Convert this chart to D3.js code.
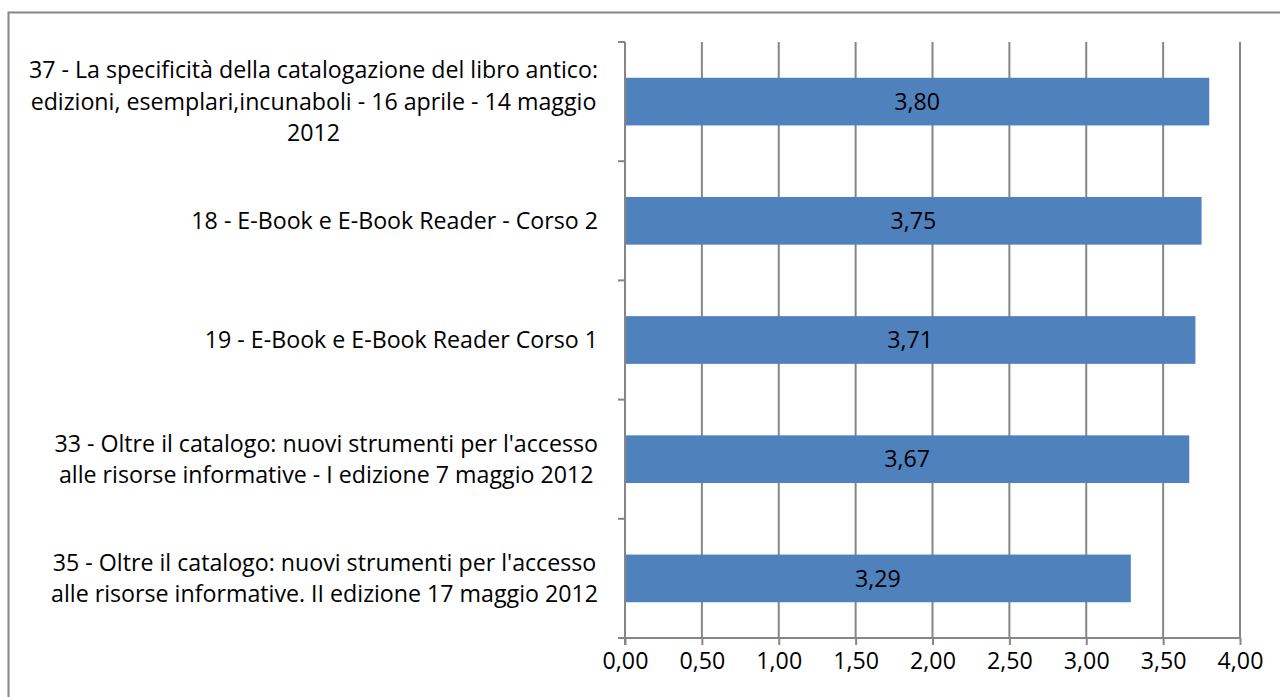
<!DOCTYPE html>
<html>
<head>
<meta charset="utf-8">
<script src="https://cdn.jsdelivr.net/npm/d3@7"></script>
<style>
  body { margin: 0; background: #fff; }
  text { font-family: "Open Sans", sans-serif; fill: #000; }
</style>
</head>
<body>
<div id="chart"></div>
<script>
const categories = [
  "37 - La specificità della catalogazione del libro antico:\nedizioni, esemplari,incunaboli - 16 aprile - 14 maggio\n2012",
  "18 - E-Book e E-Book Reader - Corso 2",
  "19 - E-Book e E-Book Reader Corso 1",
  "33 - Oltre il catalogo: nuovi strumenti per l'accesso\nalle risorse informative - I edizione 7 maggio 2012",
  "35 - Oltre il catalogo: nuovi strumenti per l'accesso\nalle risorse informative. II edizione 17 maggio 2012"
];
const values = [3.80, 3.75, 3.71, 3.67, 3.29];
const xTicks = [0, 0.5, 1, 1.5, 2, 2.5, 3, 3.5, 4];

const W = 1280, H = 697;
const grey = "#868686";
const fontSize = 23.2;

const it = d3.formatLocale({decimal: ",", thousands: ".", grouping: [3], currency: ["€", ""]});
const fmt = it.format(".2f");

const svg = d3.select("#chart")
  .append("svg")
  .attr("width", W)
  .attr("height", H);

// outer frame (right/bottom edges fall off the picture)
svg.append("rect")
  .attr("x", 8.5).attr("y", 12.5)
  .attr("width", W + 20).attr("height", H + 20)
  .attr("fill", "none")
  .attr("stroke", grey)
  .attr("stroke-width", 2);

const x = d3.scaleLinear().domain([0, 4]).range([625, 1240]);
const y = d3.scaleBand().domain(categories).range([42, 638])
  .paddingInner(0.6).paddingOuter(0.3);

// vertical gridlines
svg.append("g")
  .selectAll("line")
  .data(xTicks.filter(d => d > 0))
  .enter()
  .append("line")
  .attr("x1", d => x(d)).attr("x2", d => x(d))
  .attr("y1", 42).attr("y2", 638)
  .attr("stroke", grey)
  .attr("stroke-width", 2);

// bars
svg.append("g")
  .selectAll("rect")
  .data(values)
  .enter()
  .append("rect")
  .attr("x", x(0))
  .attr("y", (d, i) => y(categories[i]))
  .attr("width", d => x(d) - x(0))
  .attr("height", y.bandwidth())
  .attr("fill", "#4F81BD");

// value labels
svg.append("g")
  .selectAll("text")
  .data(values)
  .enter()
  .append("text")
  .attr("x", d => x(d / 2))
  .attr("y", (d, i) => y(categories[i]) + y.bandwidth() / 2)
  .attr("dy", "0.35em")
  .attr("text-anchor", "middle")
  .style("font-size", fontSize + "px")
  .text(d => fmt(d));

// x axis
const xAxis = svg.append("g")
  .attr("transform", "translate(0,638)")
  .call(d3.axisBottom(x).tickValues(xTicks).tickSize(7).tickPadding(8).tickFormat(fmt));
xAxis.select(".domain").attr("stroke", grey).attr("stroke-width", 2)
  .attr("d", `M${x(0) - 7},0H${x(4)}`);
xAxis.selectAll(".tick line").attr("stroke", grey).attr("stroke-width", 2);
xAxis.selectAll(".tick text")
  .style("font-size", fontSize + "px")
  .attr("font-family", null);

// y axis line and category boundary ticks
const step = y.step();
const bounds = d3.range(categories.length + 1).map(i => y.range()[0] + i * step);
svg.append("line")
  .attr("x1", x(0)).attr("x2", x(0))
  .attr("y1", 42).attr("y2", 645)
  .attr("stroke", grey).attr("stroke-width", 2);
svg.append("g")
  .selectAll("line")
  .data(bounds)
  .enter()
  .append("line")
  .attr("x1", x(0) - 7).attr("x2", x(0))
  .attr("y1", d => d).attr("y2", d => d)
  .attr("stroke", grey).attr("stroke-width", 2);

// category labels, centred block, right edge near the axis
const lineH = 31.5;
const labelRight = 598;
categories.forEach((c, i) => {
  const lines = c.split("\n");
  const g = svg.append("g");
  const cy = y(c) + y.bandwidth() / 2;
  const texts = g.selectAll("text")
    .data(lines)
    .enter()
    .append("text")
    .attr("y", (d, j) => cy + (j - (lines.length - 1) / 2) * lineH)
    .attr("dy", "0.35em")
    .attr("text-anchor", "middle")
    .style("font-size", fontSize + "px")
    .text(d => d);
  let maxW = 0;
  texts.each(function() { maxW = Math.max(maxW, this.getComputedTextLength()); });
  texts.attr("x", labelRight - maxW / 2);
});
</script>
</body>
</html>
